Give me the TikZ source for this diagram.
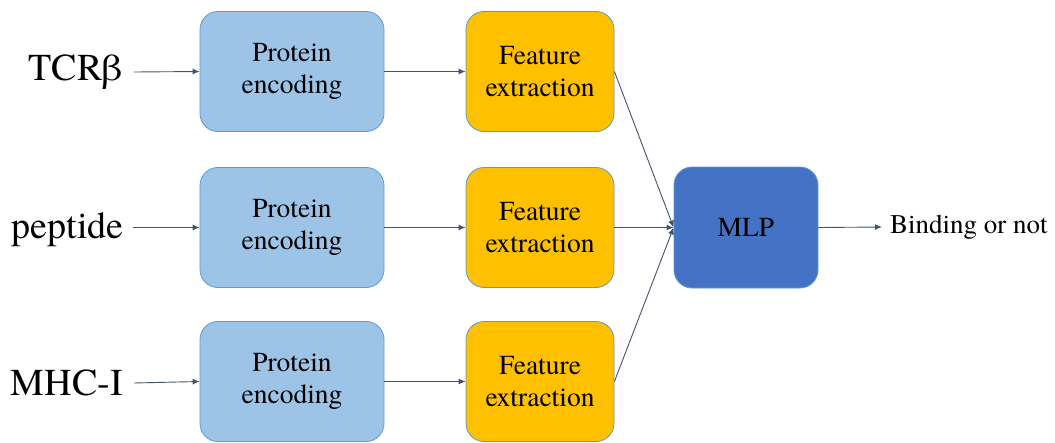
\documentclass[tikz,border=0pt]{standalone}
\usepackage{fontspec}
\newfontfamily\tnr{texgyretermes}[Extension=.otf, UprightFont=*-regular]
\usetikzlibrary{arrows.meta}
\definecolor{encfill}{HTML}{9DC3E6}
\definecolor{featfill}{HTML}{FFC000}
\definecolor{mlpfill}{HTML}{4472C4}
\definecolor{edgeblue}{HTML}{5B9BD5}
\definecolor{arrowcol}{HTML}{44546A}
\tikzset{
  box/.style={draw=edgeblue, line width=0.8pt, rounded corners=18pt, align=center,
    font=\tnr\fontsize{27.5}{32}\selectfont, inner sep=0pt, minimum height=120pt},
  encbox/.style={box, fill=encfill, minimum width=184pt},
  featbox/.style={box, fill=featfill, minimum width=148pt},
  mlpbox/.style={box, fill=mlpfill, minimum width=144pt, minimum height=121pt},
  inlabel/.style={anchor=east, inner sep=0pt, font=\tnr\fontsize{38}{40}\selectfont},
  outlabel/.style={anchor=west, inner sep=0pt, font=\tnr\fontsize{27}{30}\selectfont},
  conn/.style={draw=arrowcol, line width=0.9pt, -{Latex[length=7pt,width=6pt]}}
}
\begin{document}
\begin{tikzpicture}[x=1pt,y=-1pt]
\useasboundingbox (0,0) rectangle (1055,442);
% inputs
\node[inlabel] (tcr) at (123,72) {TCRβ};
\node[inlabel] (pep) at (124,230) {peptide};
\node[inlabel] (mhc) at (123,383) {MHC-I};
% encoding
\node[encbox] (enc1) at (292,71.5) {Protein\\encoding};
\node[encbox] (enc2) at (292,227.5) {Protein\\encoding};
\node[encbox] (enc3) at (292,381.5) {Protein\\encoding};
% features
\node[featbox] (fe1) at (540,71.5) {Feature\\extraction};
\node[featbox] (fe2) at (540,227.5) {Feature\\extraction};
\node[featbox] (fe3) at (540,381.5) {Feature\\extraction};
% mlp
\node[mlpbox] (mlp) at (746,227.5) {MLP};
\node[outlabel] (out) at (890,227) {Binding or not};
% connectors
\draw[conn] ([xshift=11pt]tcr.east) -- (enc1.west);
\draw[conn] ([xshift=9pt]pep.east |- enc2.west) -- (enc2.west);
\draw[conn] ([xshift=11pt]mhc.east) -- (enc3.west);
\draw[conn] (enc1.east) -- (fe1.west);
\draw[conn] (enc2.east) -- (fe2.west);
\draw[conn] (enc3.east) -- (fe3.west);
\draw[conn] (fe1.east) -- (mlp.west);
\draw[conn] (fe2.east) -- (mlp.west);
\draw[conn] (fe3.east) -- (mlp.west);
\draw[conn] (mlp.east) -- ([xshift=-8pt]out.west);
\end{tikzpicture}
\end{document}
